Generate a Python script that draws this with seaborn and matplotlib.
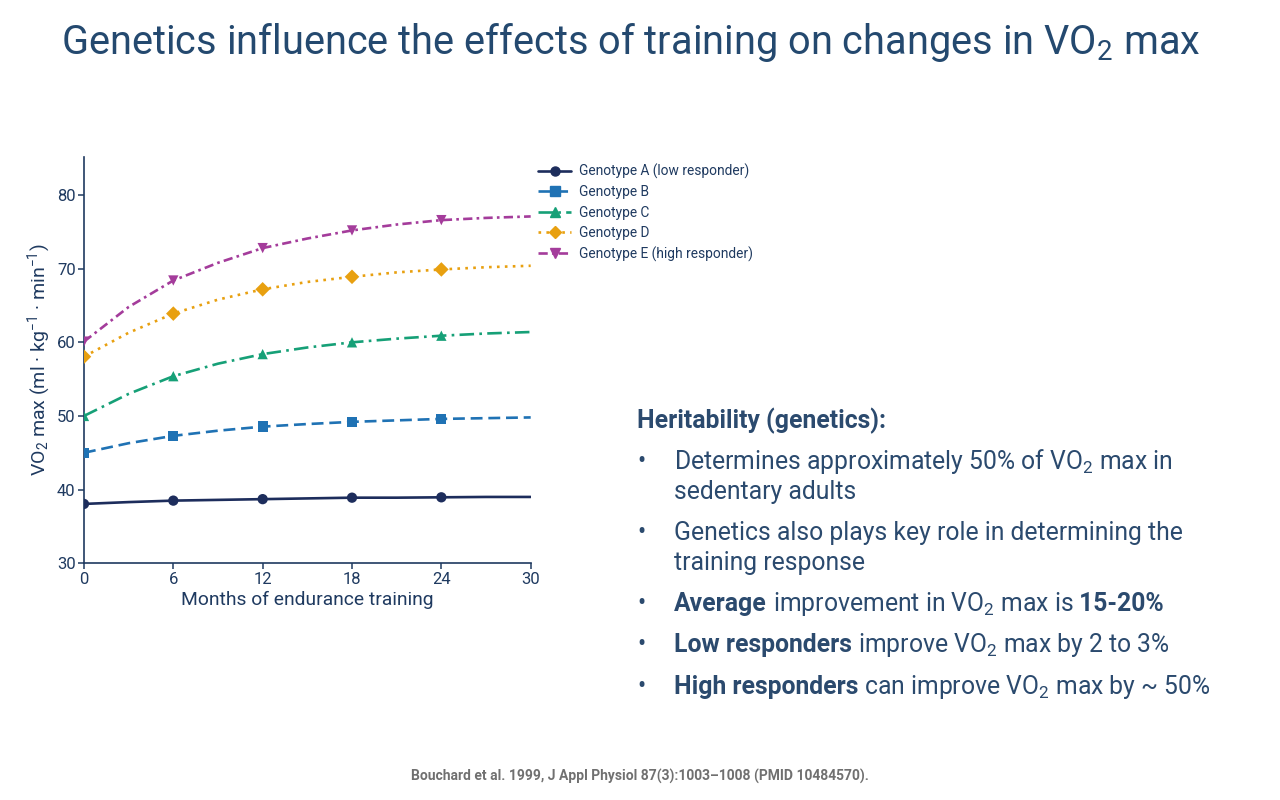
import matplotlib
matplotlib.use('Agg')
import matplotlib.pyplot as plt
from matplotlib.lines import Line2D
import seaborn as sns
import pandas as pd

# months where the curves were read (line) and where markers sit
months_line = [0, 3, 6, 9, 12, 15, 18, 21, 24, 27, 30]
months_mark = [0, 6, 12, 18, 24]

# VO2 max (ml/kg/min)
geno_a = [38.05, 38.3, 38.5, 38.6, 38.7, 38.8, 38.9, 38.9, 38.95, 39.0, 39.0]
geno_b = [45.0, 46.3, 47.3, 48.0, 48.55, 48.9, 49.2, 49.4, 49.6, 49.7, 49.8]
geno_c = [50.0, 53.0, 55.4, 57.1, 58.4, 59.3, 60.0, 60.5, 60.9, 61.2, 61.4]
geno_d = [58.05, 61.3, 63.9, 65.8, 67.2, 68.2, 68.9, 69.5, 69.9, 70.2, 70.4]
geno_e = [60.1, 64.8, 68.4, 70.8, 72.8, 74.1, 75.2, 76.0, 76.6, 76.9, 77.1]

labels = ['Genotype A (low responder)', 'Genotype B', 'Genotype C',
          'Genotype D', 'Genotype E (high responder)']
colors = ['#1d2d5c', '#1f72b4', '#16a077', '#e8a010', '#a43c9b']
markers = ['o', 's', '^', 'D', 'v']
dashes = ['', (4.5, 2.2), (5.5, 2, 1, 2), (1, 2), (3.5, 1.6, 1, 1.6)]

series = [geno_a, geno_b, geno_c, geno_d, geno_e]
rows = []
for lab, vals in zip(labels, series):
    for m, v in zip(months_line, vals):
        rows.append({'month': m, 'vo2': v, 'genotype': lab,
                     'marked': m in months_mark})
df = pd.DataFrame(rows)

navy = '#1f3a60'
title_c = '#24496f'
text_c = '#2b4a6e'

sns.set_style('white')
plt.rcParams['font.family'] = ['Roboto', 'DejaVu Sans']
plt.rcParams['mathtext.fontset'] = 'custom'
plt.rcParams['mathtext.rm'] = 'Roboto'
plt.rcParams['mathtext.it'] = 'Roboto:italic'
plt.rcParams['mathtext.bf'] = 'Roboto:bold'

fig = plt.figure(figsize=(12.8, 8), dpi=100)
ax = fig.add_axes([0.0656, 0.296, 0.349, 0.508])

pal = dict(zip(labels, colors))
sns.lineplot(data=df, x='month', y='vo2', hue='genotype', style='genotype',
             palette=pal, dashes=dict(zip(labels, dashes)), linewidth=1.9,
             legend=False, ax=ax)
sns.scatterplot(data=df[df['marked']], x='month', y='vo2', hue='genotype',
                style='genotype', palette=pal,
                markers=dict(zip(labels, markers)), s=55, linewidth=0,
                legend=False, ax=ax, zorder=3)

ax.set_xlim(0, 30)
ax.set_ylim(30, 85.2)
ax.set_xticks(range(0, 31, 6))
ax.set_yticks(range(30, 81, 10))
for s in ['top', 'right']:
    ax.spines[s].set_visible(False)
for s in ['left', 'bottom']:
    ax.spines[s].set_color(navy)
    ax.spines[s].set_linewidth(1.2)
ax.tick_params(axis='both', colors=navy, labelsize=12, length=4, width=1.1,
               direction='out', pad=2, left=True, bottom=True)
ax.set_xlabel('Months of endurance training', fontsize=13.9, color=navy, labelpad=3)
ax.set_ylabel('VO$_2$ max (ml · kg$^{-1}$ · min$^{-1}$)', fontsize=14,
              color=navy, labelpad=3)

handles = [Line2D([], [], color=c, marker=mk, dashes=d if d else (None, None),
                  linestyle='-', linewidth=1.9, markersize=6.5)
           for c, mk, d in zip(colors, markers, dashes)]
leg = ax.legend(handles, labels, loc='upper left', bbox_to_anchor=(1.005, 0.997),
                frameon=False, fontsize=9.9, handlelength=2.4, handletextpad=0.55,
                labelspacing=0.46, borderaxespad=0)
for t in leg.get_texts():
    t.set_color(navy)

fig.text(0.493, 0.947, 'Genetics influence the effects of training on changes in VO$_2$ max',
         ha='center', va='center', fontsize=28.6, color=title_c)

# right-hand text block, drawn piece by piece so bold words can sit in a line
renderer = fig.canvas.get_renderer()


def rich_line(x, y, parts, size=17.8):
    for txt, weight in parts:
        t = fig.text(x, y, txt, fontsize=size, fontweight=weight, color=text_c,
                     va='baseline', ha='left')
        bb = t.get_window_extent(renderer=renderer)
        x += bb.width / fig.bbox.width


fig.text(637 / 1280, 1 - 428 / 800, 'Heritability (genetics):', fontsize=17.8,
         fontweight='bold', color=text_c, va='baseline')

bullets = [
    (469, [('Determines approximately 50% of VO$_2$ max in', 'normal')]),
    (499, [('sedentary adults', 'normal')]),
    (540, [('Genetics also plays key role in determining the', 'normal')]),
    (570, [('training response', 'normal')]),
    (611, [('Average', 'bold'), (' improvement in VO$_2$ max is', 'normal'),
           (' 15-20%', 'bold')]),
    (652, [('Low responders', 'bold'), (' improve VO$_2$ max by 2 to 3%', 'normal')]),
    (694, [('High responders', 'bold'), (' can improve VO$_2$ max by ~ 50%', 'normal')]),
]
first_rows = {469, 540, 611, 652, 694}
for yy, parts in bullets:
    if yy in first_rows:
        fig.text(637 / 1280, 1 - yy / 800, '•', fontsize=17.8, color=text_c,
                 va='baseline')
    rich_line(674 / 1280, 1 - yy / 800, parts)

fig.text(0.5, 1 - 776 / 800,
         'Bouchard et al. 1999, J Appl Physiol 87(3):1003\u20131008 (PMID 10484570).',
         ha='center', va='center', fontsize=10, fontweight='bold', color='#707070')

fig.savefig('out.png', dpi=100)
